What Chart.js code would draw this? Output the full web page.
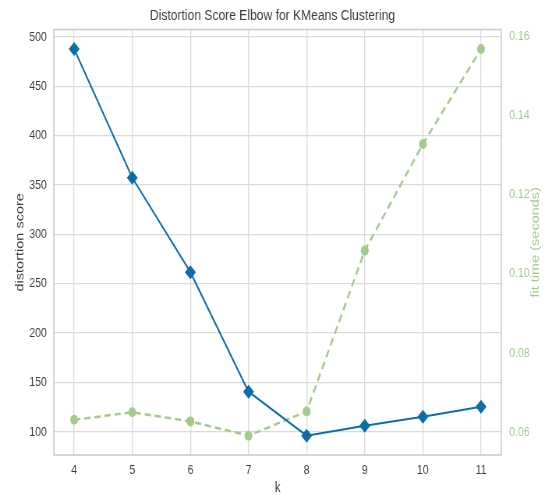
<!DOCTYPE html>
<html>
<head>
<meta charset="utf-8">
<title>Distortion Score Elbow</title>
<script src="https://cdn.jsdelivr.net/npm/chart.js@4.4.0/dist/chart.umd.min.js"></script>
<style>
  html, body { margin: 0; padding: 0; background: #fff; overflow: hidden; }
  /* the reference is horizontally squeezed, so draw wide and scale down */
  #wrap { width: 699px; height: 495px; transform: scaleX(0.7797); transform-origin: 0 0; }
</style>
</head>
<body>
<div id="wrap"><canvas id="elbow" width="699" height="495"></canvas></div>
<script>
// data
const kValues = [4, 5, 6, 7, 8, 9, 10, 11];
const distortion = [487.7, 357.3, 261.7, 140.7, 96.2, 106.3, 115.4, 125.5];
const fitTime = [0.0631, 0.0650, 0.0627, 0.0591, 0.0652, 0.1058, 0.1327, 0.1567];
const scoreTicks = [100, 150, 200, 250, 300, 350, 400, 450, 500];
const timeTicks = [0.06, 0.08, 0.10, 0.12, 0.14, 0.16];

const BLUE = '#0b6ea6';
const GREEN = '#a4c98b';
const TEXT = '#3c3c3c';
const GRID = '#dadada';
const FONT = 'Liberation Sans, Arial, sans-serif';

// matplotlib style 5% margins
function padded(values) {
    const lo = Math.min(...values), hi = Math.max(...values);
    const pad = (hi - lo) * 0.05;
    return { min: lo - pad, max: hi + pad };
}
const xRange = padded(kValues);
const yRange = padded(distortion);
const y2Range = padded(fitTime);

// light frame around the plot area
const framePlugin = {
    id: 'frame',
    beforeDatasetsDraw(chart) {
        const { ctx, chartArea: a } = chart;
        ctx.save();
        ctx.strokeStyle = '#cccccc';
        ctx.lineWidth = 1.6;
        ctx.strokeRect(a.left, a.top, a.right - a.left, a.bottom - a.top);
        ctx.restore();
    }
};

// right axis title reads bottom to top, like matplotlib's twinx label
const rightTitlePlugin = {
    id: 'rightTitle',
    afterDraw(chart) {
        const { ctx, chartArea: a } = chart;
        ctx.save();
        ctx.translate(chart.width - 11.6, (a.top + a.bottom) / 2);
        ctx.rotate(-Math.PI / 2);
        ctx.fillStyle = GREEN;
        ctx.font = '14.5px ' + FONT;
        ctx.textAlign = 'center';
        ctx.textBaseline = 'middle';
        ctx.fillText('fit time (seconds)', 0, 0);
        ctx.restore();
    }
};

new Chart(document.getElementById('elbow').getContext('2d'), {
    type: 'line',
    data: {
        datasets: [{
            label: 'distortion score',
            data: kValues.map((k, i) => ({ x: k, y: distortion[i] })),
            yAxisID: 'y',
            borderColor: BLUE,
            backgroundColor: BLUE,
            borderWidth: 2,
            pointStyle: 'rectRot',
            pointRadius: 7,
            pointBorderWidth: 0,
            tension: 0
        }, {
            label: 'fit time',
            data: kValues.map((k, i) => ({ x: k, y: fitTime[i] })),
            yAxisID: 'y2',
            borderColor: GREEN,
            backgroundColor: GREEN,
            borderWidth: 2.5,
            borderDash: [8, 5],
            pointStyle: 'circle',
            pointRadius: 5,
            pointBorderWidth: 0,
            tension: 0
        }]
    },
    options: {
        responsive: false,
        animation: false,
        layout: { padding: 0 },
        plugins: {
            legend: { display: false },
            tooltip: { enabled: false },
            title: {
                display: true,
                text: 'Distortion Score Elbow for KMeans Clustering',
                color: TEXT,
                font: { family: FONT, size: 15.5, weight: 'normal' },
                padding: { top: 6, bottom: 5 }
            }
        },
        scales: {
            x: {
                type: 'linear',
                position: 'bottom',
                min: xRange.min,
                max: xRange.max,
                afterBuildTicks: s => { s.ticks = kValues.map(v => ({ value: v })); },
                afterFit: s => { s.height = 40; },
                grid: { color: GRID, lineWidth: 1.3, drawTicks: false },
                border: { display: false },
                ticks: {
                    padding: 7,
                    color: TEXT,
                    font: { family: FONT, size: 13.5 },
                    callback: v => String(v)
                },
                title: {
                    display: true,
                    text: 'k',
                    color: TEXT,
                    font: { family: FONT, size: 14.5, lineHeight: 1 },
                    padding: { top: 0, bottom: 0 }
                }
            },
            y: {
                type: 'linear',
                position: 'left',
                min: yRange.min,
                max: yRange.max,
                afterBuildTicks: s => { s.ticks = scoreTicks.map(v => ({ value: v })); },
                afterFit: s => { s.width = 69; },
                grid: { color: GRID, lineWidth: 1.3, drawTicks: false },
                border: { display: false },
                ticks: {
                    padding: 9,
                    color: TEXT,
                    font: { family: FONT, size: 13.5 },
                    callback: v => String(v)
                },
                title: {
                    display: true,
                    text: 'distortion score',
                    color: TEXT,
                    font: { family: FONT, size: 14.5 },
                    padding: { top: 17, bottom: 0 }
                }
            },
            y2: {
                type: 'linear',
                position: 'right',
                min: y2Range.min,
                max: y2Range.max,
                afterBuildTicks: s => { s.ticks = timeTicks.map(v => ({ value: v })); },
                afterFit: s => { s.width = 56; },
                grid: { display: false, drawTicks: false },
                border: { display: false },
                ticks: {
                    padding: 10,
                    color: GREEN,
                    font: { family: FONT, size: 13.5 },
                    callback: v => v.toFixed(2)
                },
                title: { display: false }
            }
        }
    },
    plugins: [framePlugin, rightTitlePlugin]
});
</script>
</body>
</html>
